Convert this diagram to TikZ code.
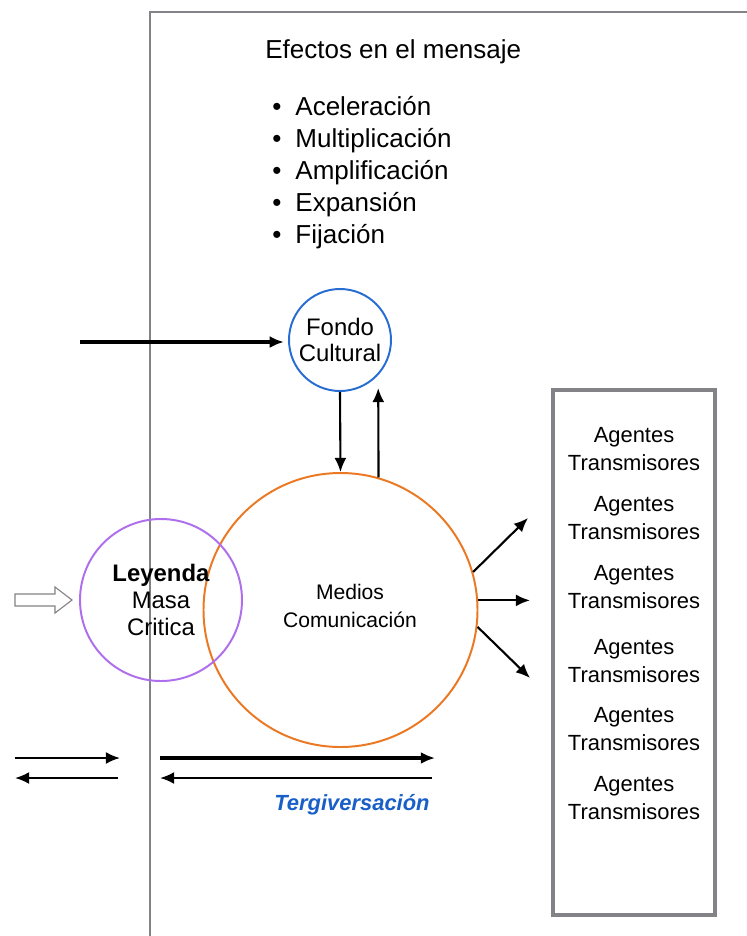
\documentclass[tikz,border=0pt]{standalone}
\usepackage{fontspec}
\setmainfont{Liberation Sans}
\usepackage{xcolor}
\usepackage{tikz}
\usetikzlibrary{positioning,arrows.meta}

\definecolor{fondoblue}{RGB}{40,110,210}
\definecolor{mediosorange}{RGB}{235,120,35}
\definecolor{leyendapurple}{RGB}{175,110,235}
\definecolor{framegray}{RGB}{130,130,135}
\definecolor{tergblue}{RGB}{25,95,200}

\begin{document}
\begin{tikzpicture}[
  circ/.style={draw, circle, line width=1.4pt, inner sep=0pt, align=center},
  flecha/.style={-{Latex[length=10pt,width=8.5pt]}, line width=1.5pt},
  gruesa/.style={flecha, line width=2.5pt},
  efecto/.style={anchor=base west, inner sep=0pt, font=\fontsize{18.5}{22}\selectfont},
  agente/.style={align=center, font=\fontsize{15.6}{19.9}\selectfont}
]
\useasboundingbox (0,0) rectangle (18.675,-23.4);

% Frame
\draw[framegray, line width=1.6pt] (3.75,-23.4) -- (3.75,-0.3) -- (18.675,-0.3);

% Effects on the message
\node[efecto] (titulo) at (6.625,-1.45) {Efectos en el mensaje};
\node[efecto] (e1) at (6.8,-2.875) {\textbullet\hspace{10pt}Aceleración};
\node[efecto] (e2) at (6.8,-3.675) {\textbullet\hspace{10pt}Multiplicación};
\node[efecto] (e3) at (6.8,-4.475) {\textbullet\hspace{10pt}Amplificación};
\node[efecto] (e4) at (6.8,-5.275) {\textbullet\hspace{10pt}Expansión};
\node[efecto] (e5) at (6.8,-6.075) {\textbullet\hspace{10pt}Fijación};

% Circles
\node[circ, draw=fondoblue, minimum size=2.55cm, font=\fontsize{17}{19}\selectfont] (fondo) at (8.5,-8.5) {Fondo\\Cultural};
\node[circ, draw=mediosorange, minimum size=6.85cm, font=\fontsize{15}{20}\selectfont] (medios) at (8.5125,-15.25) {};
\node[align=center, font=\fontsize{15}{20}\selectfont] (mediostxt) at (8.75,-15.15) {Medios\\Comunicación};
\node[circ, draw=leyendapurple, minimum size=4.05cm, font=\fontsize{17}{19.5}\selectfont] (leyenda) at (4.025,-15.0) {\textbf{Leyenda}\\Masa\\Critica};

% Hollow arrow into the legend
\draw[framegray, line width=0.8pt] (0.375,-14.85) -- (1.375,-14.85) -- (1.375,-14.675) -- (1.8,-15)
  -- (1.375,-15.325) -- (1.375,-15.15) -- (0.375,-15.15) -- cycle;

% Fondo <-> Medios
\coordinate (izq) at (2,-8.55);
\draw[gruesa, shorten >=3pt] (izq) -- (fondo.west |- izq);
\draw[flecha] (fondo.south) -- (medios.north);
\coordinate (sube) at (9.456,-9.7);
\draw[flecha] (medios.74) -- (sube);

% Agents box
\node[draw=framegray, line width=2.4pt, minimum width=4.05cm, minimum height=13.125cm, inner sep=0pt] (caja) at (15.85,-16.3125) {};
\node[agente] (ag1) at (15.85,-11.225) {Agentes\\Transmisores};
\node[agente] (ag2) at (15.85,-12.9625) {Agentes\\Transmisores};
\node[agente] (ag3) at (15.85,-14.6875) {Agentes\\Transmisores};
\node[agente] (ag4) at (15.85,-16.5375) {Agentes\\Transmisores};
\node[agente] (ag5) at (15.85,-18.225) {Agentes\\Transmisores};
\node[agente] (ag6) at (15.85,-19.9625) {Agentes\\Transmisores};

% Medios -> agents
\coordinate (s1) at (13.2,-12.95);
\coordinate (s2) at (13.25,-15);
\coordinate (s3) at (13.25,-16.95);
\draw[flecha] (medios.16) -- (s1);
\draw[flecha] (medios.4) -- (medios.4 -| s2);
\draw[flecha] (medios.-7) -- (s3);

% Bottom arrows
\coordinate (b1) at (0.375,-18.95);
\coordinate (b2) at (3.0,-18.95);
\coordinate (b3) at (2.95,-19.45);
\coordinate (b4) at (0.375,-19.45);
\draw[flecha] (b1) -- (b2);
\draw[flecha] (b3) -- (b4);
\coordinate (c1) at (4.0,-18.95);
\coordinate (c2) at (10.875,-18.95);
\coordinate (c3) at (10.8,-19.45);
\coordinate (c4) at (4.0,-19.45);
\draw[gruesa] (c1) -- (c2);
\draw[flecha] (c3) -- (c4);
\node[text=tergblue, font=\bfseries\itshape\fontsize{15.6}{18}\selectfont] (terg) at (8.8,-20.125) {Tergiversación};

\end{tikzpicture}
\end{document}
